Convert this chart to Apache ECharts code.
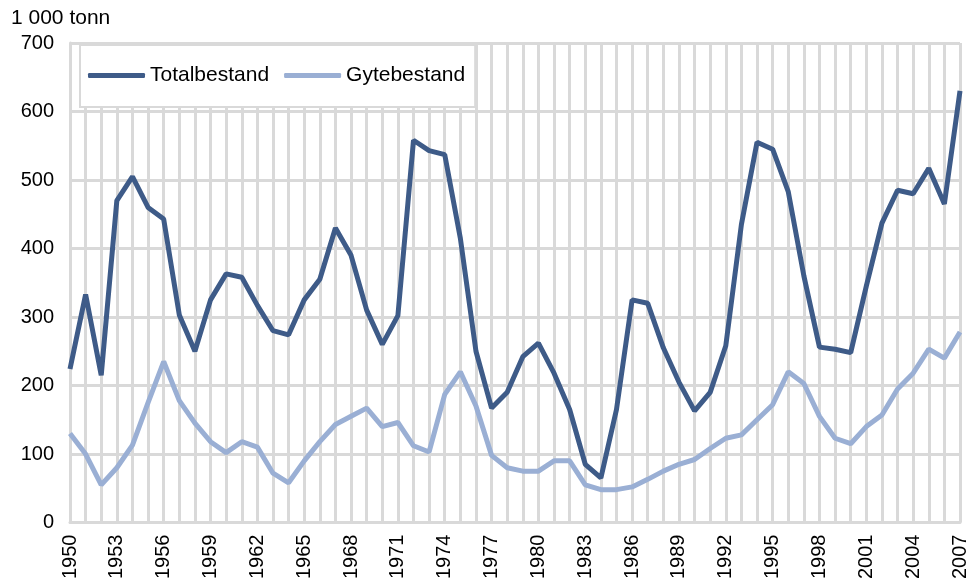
<!DOCTYPE html>
<html>
<head>
<meta charset="utf-8">
<script src="https://cdn.jsdelivr.net/npm/echarts@6/dist/echarts.min.js"></script>
<style>
  html, body { margin: 0; padding: 0; background: #fff; }
  #chart { width: 970px; height: 582px; }
</style>
</head>
<body>
<div id="chart"></div>
<script>
// år 1950-2007
var years = [];
for (var y = 1950; y <= 2007; y++) years.push(String(y));

// 1 000 tonn
var totalbestand = [
  224, 333, 215, 470, 505, 460, 443, 303, 250, 325,
  363, 358, 317, 280, 274, 325, 355, 430, 390, 310,
  260, 302, 558, 543, 537, 415, 250, 167, 190, 242,
  262, 218, 165, 85, 65, 165, 325, 320, 255, 205,
  163, 190, 258, 435, 555, 545, 483, 360, 256, 253,
  248, 345, 437, 485, 480, 517, 465, 630
];
var gytebestand = [
  130, 100, 55, 80, 113, 175, 235, 178, 145, 118,
  102, 118, 110, 72, 58, 90, 118, 143, 155, 167,
  140, 146, 112, 103, 187, 220, 170, 98, 80, 75,
  75, 90, 90, 55, 48, 48, 52, 63, 75, 85,
  92, 108, 123, 128, 150, 172, 220, 203, 155, 123,
  115, 140, 157, 195, 218, 253, 240, 278
];

var font = '"Liberation Sans", Arial, sans-serif';
var gridColor = '#d9d9d9';

var chart = echarts.init(document.getElementById('chart'));
chart.setOption({
  animation: false,
  backgroundColor: '#fff',
  textStyle: { fontFamily: font },
  graphic: [{
    type: 'text',
    left: 11,
    top: 8,
    style: { text: '1 000 tonn', font: '21px ' + font, fill: '#000' }
  }],
  legend: {
    left: 80,
    top: 45,
    width: 400,
    padding: [20, 10, 21, 8],
    backgroundColor: '#fff',
    borderColor: gridColor,
    borderWidth: 2,
    icon: 'roundRect',
    itemWidth: 57,
    itemHeight: 5,
    itemGap: 15,
    textStyle: { fontSize: 21, color: '#000', fontFamily: font },
    data: ['Totalbestand', 'Gytebestand']
  },
  grid: { left: 70, right: 7, top: 43, bottom: 58 },
  xAxis: {
    type: 'category',
    data: years,
    boundaryGap: false,
    axisLine: { lineStyle: { color: gridColor, width: 3 } },
    axisTick: { show: false },
    splitLine: { show: true, interval: 0, lineStyle: { color: gridColor, width: 3 } },
    axisLabel: {
      interval: 2,
      rotate: 90,
      fontSize: 20,
      color: '#000',
      margin: 12,
      fontFamily: font
    }
  },
  yAxis: {
    type: 'value',
    min: 0,
    max: 700,
    interval: 100,
    axisLine: { show: true, lineStyle: { color: gridColor, width: 3 } },
    axisTick: { show: false },
    splitLine: { lineStyle: { color: gridColor, width: 3 } },
    axisLabel: { fontSize: 20, color: '#000', margin: 16, fontFamily: font }
  },
  series: [
    {
      name: 'Totalbestand',
      type: 'line',
      data: totalbestand,
      showSymbol: false,
      color: '#3e5b88',
      lineStyle: { width: 5, color: '#3e5b88' },
      z: 3
    },
    {
      name: 'Gytebestand',
      type: 'line',
      data: gytebestand,
      showSymbol: false,
      color: '#9aafd4',
      lineStyle: { width: 5, color: '#9aafd4' },
      z: 2
    }
  ]
});
</script>
</body>
</html>
